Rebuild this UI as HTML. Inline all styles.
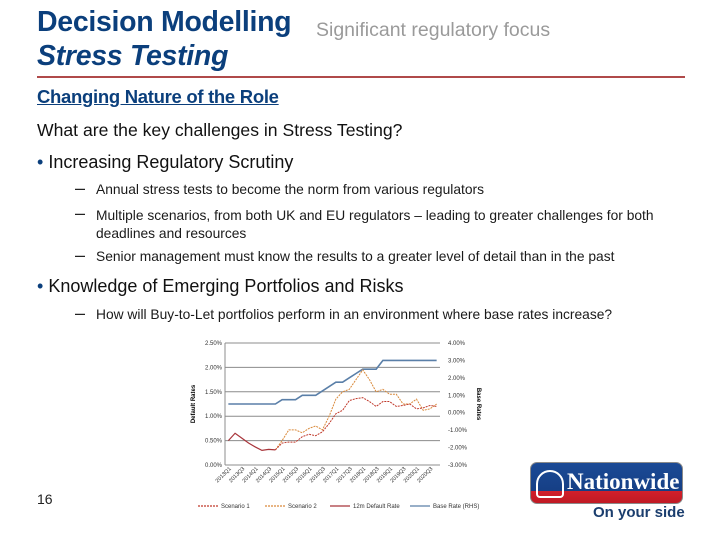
<!DOCTYPE html>
<html><head><meta charset="utf-8"><style>
body{margin:0;width:720px;height:540px;background:#fff;font-family:"Liberation Sans",Arial,sans-serif;position:relative;overflow:hidden}
.a{position:absolute;white-space:nowrap}
.dash{color:#222;font-size:18px}
.sub{font-size:13.8px;color:#1a1a1a}
</style></head><body>
<div class="a" style="left:37px;top:6px;font-size:28.5px;font-weight:bold;color:#0b3f7c;letter-spacing:-0.3px">Decision Modelling</div>
<div class="a" style="left:37px;top:40px;font-size:28.5px;font-weight:bold;font-style:italic;color:#0b3f7c;letter-spacing:-0.3px">Stress Testing</div>
<div class="a" style="left:316px;top:19px;font-size:19.5px;color:#9a9a9a">Significant regulatory focus</div>
<div class="a" style="left:37px;top:76px;width:648px;height:2px;background:#b04a4a"></div>
<div class="a" style="left:37px;top:86px;font-size:18.5px;font-weight:bold;color:#0b3f7c;text-decoration:underline;letter-spacing:-0.3px">Changing Nature of the Role</div>
<div class="a" style="left:37px;top:120px;font-size:17.6px;color:#111">What are the key challenges in Stress Testing?</div>
<div class="a" style="left:37px;top:152px;font-size:18px;color:#111"><span style="color:#0b3f7c">•</span> Increasing Regulatory Scrutiny</div>
<div class="a dash" style="left:75px;top:178px">–</div>
<div class="a sub" style="left:96px;top:182px">Annual stress tests to become the norm from various regulators</div>
<div class="a dash" style="left:75px;top:203px">–</div>
<div class="a sub" style="left:96px;top:207px;line-height:18px">Multiple scenarios, from both UK and EU regulators – leading to greater challenges for both<br>deadlines and resources</div>
<div class="a dash" style="left:75px;top:245px">–</div>
<div class="a sub" style="left:96px;top:249px">Senior management must know the results to a greater level of detail than in the past</div>
<div class="a" style="left:37px;top:276px;font-size:18px;color:#111"><span style="color:#0b3f7c">•</span> Knowledge of Emerging Portfolios and Risks</div>
<div class="a dash" style="left:75px;top:303px">–</div>
<div class="a sub" style="left:96px;top:307px">How will Buy-to-Let portfolios perform in an environment where base rates increase?</div>
<div class="a" style="left:37px;top:491px;font-size:14px;color:#222">16</div>

<svg class="a" style="left:0;top:0" width="720" height="540" id="ch"></svg>

<div class="a" style="left:530px;top:462px;width:151px;height:40px;border-radius:7px;background:linear-gradient(#1b4a96 0%,#163f85 70%,#d2202b 70%,#c01a24 100%);border:1px solid #8a8a8a">
<div class="a" style="left:5px;top:7px;width:24px;height:24px;border:2px solid #fff;border-radius:50% 50% 4px 4px"></div>
<div class="a" style="left:36px;top:6px;font-family:'Liberation Serif',serif;font-weight:bold;font-size:23px;color:#fff">Nationwide</div>
</div>
<div class="a" style="left:593px;top:504px;font-size:15px;font-weight:bold;color:#1b3e6e">On your side</div>

<script>
const quarters=[];for(let y=2013;y<=2020;y++)for(let q=1;q<=4;q++)quarters.push(y+'Q'+q);
const historic=[0.5,0.65,0.55,0.45,0.37,0.3,0.32,0.31];
const scenario1=[0.31,0.45,0.47,0.47,0.58,0.63,0.6,0.68,0.85,1.05,1.12,1.32,1.36,1.38,1.3,1.2,1.3,1.3,1.2,1.22,1.25,1.15,1.17,1.22,1.2];
const scenario2=[0.31,0.5,0.72,0.72,0.66,0.75,0.8,0.72,1.0,1.35,1.5,1.55,1.75,1.95,1.75,1.5,1.55,1.45,1.45,1.25,1.25,1.35,1.12,1.15,1.25];
const baseRate=[0.5,0.5,0.5,0.5,0.5,0.5,0.5,0.5,0.75,0.75,0.75,1,1,1,1.25,1.5,1.75,1.75,2,2.25,2.5,2.5,2.5,3,3,3,3,3,3,3,3,3];
const leftTicks=[0,0.5,1,1.5,2,2.5];
const rightTicks=[-3,-2,-1,0,1,2,3,4];
const scenStart=7;
const svg=document.getElementById('ch'),NS='http://www.w3.org/2000/svg';
const L=225,R=440,T=343,B=465;
const x=i=>L+(i+0.5)*(R-L)/quarters.length;
const yl=v=>B-v/2.5*(B-T);
const yr=v=>B-(v+3)/7*(B-T);
function mk(t,a,txt){const e=document.createElementNS(NS,t);for(const k in a)e.setAttribute(k,a[k]);if(txt!==undefined)e.textContent=txt;svg.appendChild(e);return e;}
leftTicks.forEach(v=>{
 const g=mk('line',{x1:L,x2:R,y1:yl(v),y2:yl(v),stroke:'#8c8c8c','stroke-width':1});
 
 
 const t=mk('text',{x:L-3,y:yl(v)+2,'font-size':6,'text-anchor':'end',fill:'#333','font-family':'Liberation Sans'},v.toFixed(2)+'%');
 
 
});
rightTicks.forEach(v=>{
 const t=mk('text',{x:R+8,y:yr(v)+2,'font-size':6,fill:'#333','font-family':'Liberation Sans'},v.toFixed(2)+'%');
 
 
});
mk('line',{x1:L,x2:L,y1:T,y2:B,stroke:'#8c8c8c'});
quarters.forEach((q,i)=>{
 if(i%2)return;
 const t=mk('text',{transform:`translate(${x(i)+3},${B+4}) rotate(-45)`,'font-size':5.5,'text-anchor':'end',fill:'#333','font-family':'Liberation Sans'},q);
 
 
});
const yt=mk('text',{transform:`translate(195,404) rotate(-90)`,'font-size':6,'font-weight':'bold','text-anchor':'middle'},'Default Rates');


const yt2=mk('text',{transform:`translate(477,404) rotate(90)`,'font-size':6,'font-weight':'bold','text-anchor':'middle'},'Base Rates');


function line(vals,off,yf,st,w,da,name){
 const p=vals.map((v,i)=>x(i+off)+','+yf(v)).join(' ');
 const e=mk('polyline',{points:p,fill:'none',stroke:st,'stroke-width':w,'stroke-dasharray':da||'none'});
 
 
}
line(baseRate,0,yr,'#5a7fa8',1.6,null,'base-rate-line');
line(scenario2,scenStart,yl,'#d9893a',1,'2,1','scenario-2-line');
line(scenario1,scenStart,yl,'#c0392b',1,'2,1','scenario-1-line');
line(historic,0,yl,'#a8343a',1.2,null,'default-rate-line');
const leg=[['Scenario 1','#c0392b','2,1',198],['Scenario 2','#d9893a','2,1',265],['12m Default Rate','#a8343a',null,330],['Base Rate (RHS)','#5a7fa8',null,410]];
leg.forEach(l=>{
 const ln=mk('line',{x1:l[3],x2:l[3]+20,y1:506,y2:506,stroke:l[1],'stroke-width':1.2,'stroke-dasharray':l[2]||'none'});
 
 
 const t=mk('text',{x:l[3]+23,y:508,'font-size':6,fill:'#333'},l[0]);
 
 
});
</script>
</body></html>
